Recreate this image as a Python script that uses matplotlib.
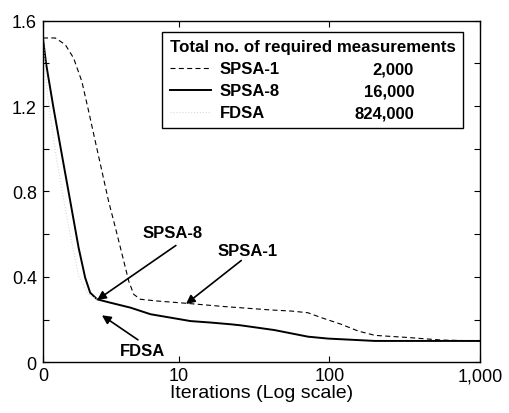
import matplotlib
matplotlib.use("Agg")
import matplotlib.pyplot as plt
from matplotlib.ticker import FixedLocator, FixedFormatter, MultipleLocator, NullLocator

plt.rcParams['font.family'] = ['Liberation Sans', 'DejaVu Sans']

# ---- data (x = iteration on log axis, left edge shown as "0")
x_min, x_max = 1.26, 1000

spsa1_x = [1.26, 1.52, 1.77, 2.01, 2.28, 2.53, 2.80, 3.10, 3.43, 3.81, 4.22, 4.67,
           5.04, 5.59, 7.22, 11.4, 20.1, 41.1, 55.9, 72.2, 88.6, 120, 156, 201,
           335, 559, 1000]
spsa1_y = [1.519, 1.519, 1.488, 1.425, 1.316, 1.176, 1.035, 0.895, 0.755, 0.630,
           0.505, 0.380, 0.318, 0.295, 0.287, 0.276, 0.261, 0.245, 0.240, 0.232,
           0.209, 0.178, 0.146, 0.126, 0.116, 0.104, 0.100]

spsa8_x = [1.26, 1.32, 1.48, 1.68, 1.91, 2.17, 2.40, 2.59, 2.88, 3.53, 4.79, 6.52,
           8.86, 12.0, 16.4, 22.2, 25.9, 43.2, 72.2, 98.2, 201, 1000]
spsa8_y = [1.515, 1.40, 1.19, 0.973, 0.755, 0.537, 0.396, 0.326, 0.295, 0.279,
           0.256, 0.225, 0.209, 0.193, 0.186, 0.178, 0.173, 0.151, 0.120, 0.111,
           0.100, 0.100]

fdsa_x = [1.26, 1.35, 1.55, 1.86, 2.17, 2.50, 2.88]
fdsa_y = [1.52, 1.25, 0.95, 0.638, 0.404, 0.32, 0.295]

names = ['SPSA-1', 'SPSA-8', 'FDSA']
measurements = ['2,000', '16,000', '824,000']

x_ticks = [1.26, 10, 100, 1000]
x_ticklabels = ['0', '10', '100', '1,000']
y_ticks = [0, 0.4, 0.8, 1.2, 1.6]

# ---- figure
fig = plt.figure(figsize=(5.09, 4.14), dpi=100)
ax = fig.add_axes([0.0845, 0.1225, 0.8585, 0.8251])

l1, = ax.plot(spsa1_x, spsa1_y, color='black', lw=0.8, dashes=(4.5, 3))
l2, = ax.plot(spsa8_x, spsa8_y, color='black', lw=1.4)
l3, = ax.plot(fdsa_x, fdsa_y, color='#dadada', lw=0.8, linestyle=':')

ax.set_xscale('log')
ax.set_xlim(x_min, x_max)
ax.set_ylim(0, 1.6)
ax.xaxis.set_major_locator(FixedLocator(x_ticks))
ax.xaxis.set_major_formatter(FixedFormatter(x_ticklabels))
ax.xaxis.set_minor_locator(NullLocator())
ax.yaxis.set_major_locator(FixedLocator(y_ticks))
ax.yaxis.set_major_formatter(FixedFormatter(['0', '0.4', '0.8', '1.2', '1.6']))
ax.yaxis.set_minor_locator(MultipleLocator(0.2))

ax.tick_params(which='both', direction='in', top=True, right=True, length=4, width=0.8)
ax.tick_params(axis='y', labelsize=13, pad=4.5)
ax.tick_params(axis='x', labelsize=13, pad=3.5)
for s in ax.spines.values():
    s.set_linewidth(1.0)

ax.set_xlabel('Iterations (Log scale)', fontsize=14, labelpad=0)

# ---- annotations
arrow = dict(arrowstyle='-|>', color='black', lw=1.2, mutation_scale=13, shrinkB=0)
ax.annotate('SPSA-8', xy=(2.88, 0.292), xytext=(9.1, 0.61), ha='center', va='center',
            fontsize=12, fontweight='bold',
            arrowprops=dict(arrow, shrinkA=4, relpos=(0.7, 0)))
ax.annotate('SPSA-1', xy=(11.2, 0.273), xytext=(28.8, 0.525), ha='center', va='center',
            fontsize=12, fontweight='bold',
            arrowprops=dict(arrow, shrinkA=0, relpos=(0.45, 0)))
ax.annotate('FDSA', xy=(3.1, 0.22), xytext=(5.8, 0.057), ha='center', va='center',
            fontsize=12, fontweight='bold',
            arrowprops=dict(arrow, shrinkA=0, relpos=(0.48, 1)))

# ---- legend with measurement counts
leg = ax.legend([l1, l2, l3], names, loc='upper right', bbox_to_anchor=(0.961, 0.967),
                borderaxespad=0, title='Total no. of required measurements',
                title_fontproperties={'weight': 'bold', 'size': 12.2},
                prop={'weight': 'bold', 'size': 12}, alignment='left',
                frameon=True, fancybox=False, edgecolor='black', framealpha=1,
                handlelength=2.5, handletextpad=0.5, labelspacing=0.42, borderpad=0.45)
leg.get_frame().set_linewidth(1.0)

fig.canvas.draw()
inv = ax.transAxes.inverted()
for t, num in zip(leg.get_texts(), measurements):
    bb = t.get_window_extent()
    ymid = inv.transform((0, (bb.y0 + bb.y1) / 2))[1]
    ax.text(0.849, ymid, num, transform=ax.transAxes, ha='right', va='center',
            fontsize=12, fontweight='bold', zorder=10)

fig.savefig('out.png', dpi=100)
